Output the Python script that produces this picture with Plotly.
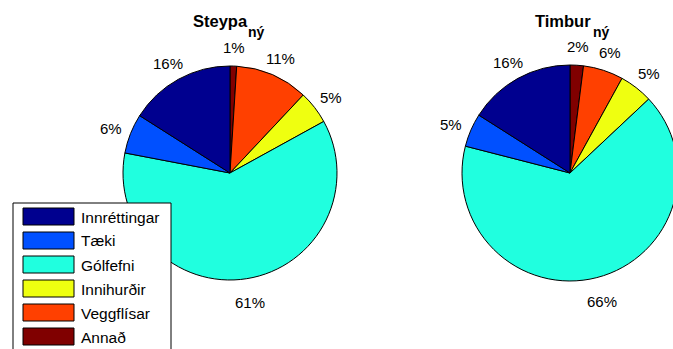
import math
import plotly.graph_objects as go

# Category names (legend order, counterclockwise from 12 o'clock)
categories = ["Innréttingar", "Tæki", "Gólfefni", "Innihurðir", "Veggflísar", "Annað"]
colors = ["#00008F", "#0050FF", "#20FFDF", "#EFFF10", "#FF4000", "#800000"]

# Percent shares per construction type
steypa_values = [16, 6, 61, 5, 11, 1]
timbur_values = [16, 5, 66, 5, 6, 2]

titles = ["Steypa", "Timbur"]
subscript = "ný"

W, H = 690, 349
# pie centres and radii in pixels
pies = [
    {"values": steypa_values, "cx": 230, "cy": 173, "r": 107, "tx": 220.5, "sx": 246},
    {"values": timbur_values, "cx": 570, "cy": 173, "r": 108, "tx": 562.5, "sx": 591},
]

FONT = "Liberation Sans, Arial, sans-serif"

fig = go.Figure()
annotations = []
shapes = []

for i, p in enumerate(pies):
    cx, cy, r = p["cx"], p["cy"], p["r"]
    # slices laid out counterclockwise from the top: feed them reversed, clockwise
    fig.add_trace(go.Pie(
        labels=categories[::-1],
        values=p["values"][::-1],
        marker=dict(colors=colors[::-1], line=dict(color="black", width=1)),
        sort=False,
        direction="clockwise",
        rotation=0,
        textinfo="none",
        hoverinfo="label+percent",
        showlegend=False,
        domain=dict(x=[(cx - r) / W, (cx + r) / W],
                    y=[(H - (cy + r)) / H, (H - (cy - r)) / H]),
    ))
    # percentage labels at 1.2 x radius on each slice's mid-angle
    total = sum(p["values"])
    cum = 0
    for v in p["values"]:
        mid = (cum + v / 2) / total * 2 * math.pi
        cum += v
        lx = cx - 1.2 * r * math.sin(mid)
        ly = cy - 1.2 * r * math.cos(mid) + 3
        annotations.append(dict(
            x=lx / W, y=(H - ly) / H, xref="paper", yref="paper",
            text=f"{round(v / total * 100)}%", showarrow=False,
            xanchor="center", yanchor="middle",
            font=dict(family=FONT, size=15, color="black"),
        ))
    # title with subscript
    annotations.append(dict(
        x=p["tx"] / W, y=(H - 21) / H, xref="paper", yref="paper",
        text=f"<b>{titles[i]}</b>", showarrow=False,
        xanchor="center", yanchor="middle",
        font=dict(family=FONT, size=16.5, color="black"),
    ))
    annotations.append(dict(
        x=p["sx"] / W, y=(H - 32) / H, xref="paper", yref="paper",
        text=f"<b>{subscript}</b>", showarrow=False,
        xanchor="left", yanchor="middle",
        font=dict(family=FONT, size=14, color="black"),
    ))

# legend box drawn over the left pie
lx0, lx1, ly0 = 13, 171, 203
shapes.append(dict(type="rect", xref="paper", yref="paper", layer="above",
                   x0=lx0 / W, x1=lx1 / W, y0=(H - 360) / H, y1=(H - ly0) / H,
                   fillcolor="white", line=dict(color="black", width=1)))
for k, (name, col) in enumerate(zip(categories, colors)):
    top = 208 + 24 * k
    shapes.append(dict(type="rect", xref="paper", yref="paper", layer="above",
                       x0=23 / W, x1=74 / W, y0=(H - (top + 17)) / H, y1=(H - top) / H,
                       fillcolor=col, line=dict(color="black", width=1)))
    annotations.append(dict(
        x=79 / W, y=(H - (top + 9)) / H, xref="paper", yref="paper",
        text=name, showarrow=False, xanchor="left", yanchor="middle",
        font=dict(family=FONT, size=15.5, color="black"),
    ))

fig.update_layout(
    width=W, height=H,
    margin=dict(l=0, r=0, t=0, b=0),
    paper_bgcolor="white", plot_bgcolor="white",
    annotations=annotations, shapes=shapes,
)

fig.write_html("out.html", post_script="document.body.style.overflow='hidden';")
